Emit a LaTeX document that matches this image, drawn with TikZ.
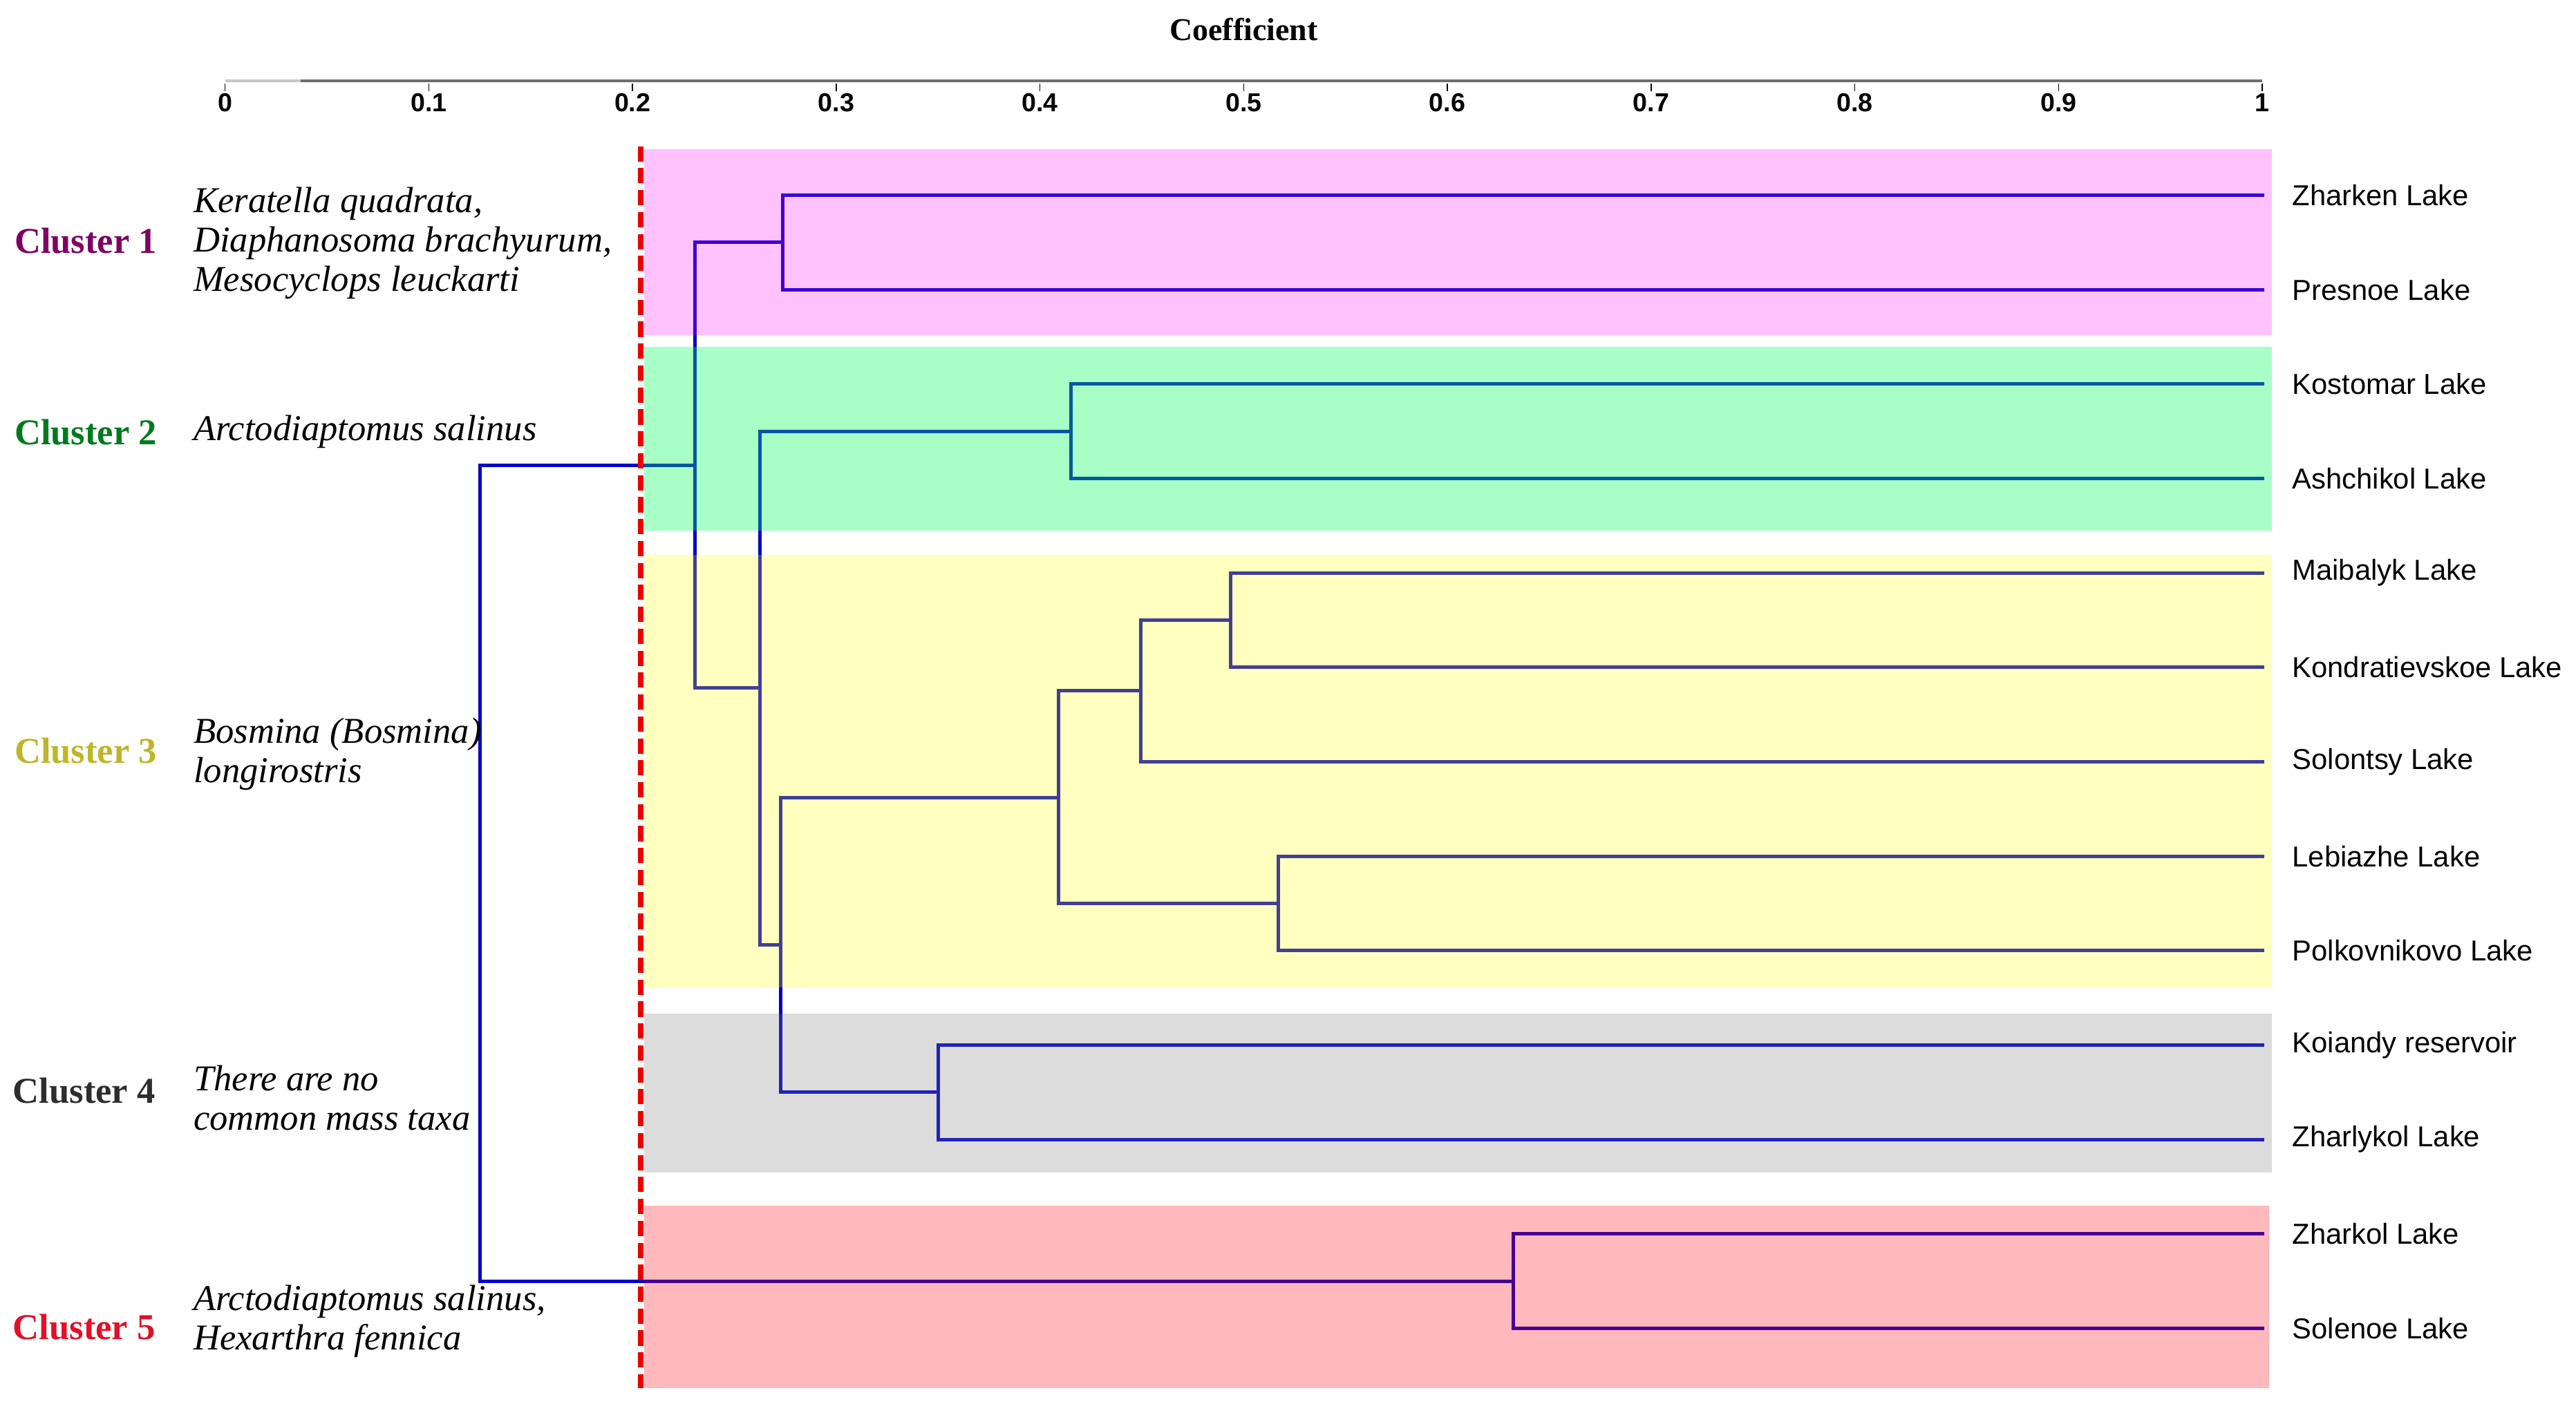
\documentclass[tikz,border=0pt]{standalone}
\usepackage{fontspec}
\setmainfont{Liberation Serif}
\newfontfamily\lakefont{Liberation Sans}
\definecolor{treeblue}{RGB}{0,0,200}
\definecolor{bpink}{RGB}{255,0,255}
\definecolor{bgreen}{RGB}{0,255,86}
\definecolor{byellow}{RGB}{255,255,0}
\definecolor{bgray}{RGB}{128,128,128}
\definecolor{bred}{RGB}{255,0,10}
\definecolor{cA}{RGB}{128,0,100}
\definecolor{cB}{RGB}{0,122,30}
\definecolor{cC}{RGB}{190,182,40}
\definecolor{cD}{RGB}{45,45,45}
\definecolor{cE}{RGB}{225,16,40}
\definecolor{axisgray}{RGB}{110,110,110}
\definecolor{axislight}{RGB}{200,200,200}
\definecolor{cutred}{RGB}{235,0,0}
\begin{document}
\begin{tikzpicture}[x=0.02cm,y=-0.02cm,
  tree/.style={draw=treeblue,line width=1.2pt,line cap=rect},
  lake/.style={anchor=west,font=\lakefont\fontsize{10}{12}\selectfont,inner sep=0},
  cl/.style={anchor=west,font=\bfseries\fontsize{12.6}{13.6}\selectfont,inner sep=0},
  sp/.style={anchor=west,align=left,font=\itshape\fontsize{12.6}{13.6}\selectfont,inner sep=0},
  ticklab/.style={font=\lakefont\bfseries\fontsize{9}{11}\selectfont,inner sep=0},
  band/.style={fill opacity=#1}
]
\useasboundingbox (0,0) rectangle (1568,860);

% axis
\node[font=\bfseries\fontsize{11}{13}\selectfont,inner sep=0] (coef) at (757,18) {Coefficient};
\coordinate (a0) at (137,49.2);
\coordinate (a1) at (1377,49.2);
\coordinate (amid) at (183,49.2);
\draw[axisgray,line width=0.8pt] (amid) -- (a1);
\draw[axislight,line width=0.8pt] (a0) -- (amid);
\foreach \k/\lab in {0/0,1/0.1,2/0.2,3/0.3,4/0.4,5/0.5,6/0.6,7/0.7,8/0.8,9/0.9,10/1}{
  \coordinate (tk\k) at (137+124*\k,51);
  \node[ticklab] (tl\k) at (137+124*\k,62.3) {\lab};
  \draw[black,line width=0.35pt] (tk\k) -- ++(0,4.5);
}

% leaves
\foreach \i/\name in {1/Zharken Lake,2/Presnoe Lake,3/Kostomar Lake,4/Ashchikol Lake,5/Maibalyk Lake,6/Kondratievskoe Lake,7/Solontsy Lake,8/Lebiazhe Lake,9/Polkovnikovo Lake,10/Koiandy reservoir,11/Zharlykol Lake,12/Zharkol Lake,13/Solenoe Lake}{
  \coordinate (e\i) at (1377,{118.8+57.5*(\i-1)});
  \node[lake] (l\i) at (1395,{118.8+57.5*(\i-1)}) {\name};
}

% internal nodes
\coordinate (n1) at (476.6,147.5);
\coordinate (n2) at (651.8,262.6);
\coordinate (n3) at (749,377.6);
\coordinate (n4) at (694.2,420.5);
\coordinate (n5) at (778,550);
\coordinate (n6) at (644.5,485.5);
\coordinate (n7) at (571.3,665);
\coordinate (n8) at (475,575.5);
\coordinate (n9) at (462.7,419);
\coordinate (n10) at (422.9,283.3);
\coordinate (n11) at (921,780);
\coordinate (n12) at (292,531.6);

\draw[tree] (e1) -| (n1) |- (e2);
\draw[tree] (e3) -| (n2) |- (e4);
\draw[tree] (e5) -| (n3) |- (e6);
\draw[tree] (n3) -| (n4) |- (e7);
\draw[tree] (e8) -| (n5) |- (e9);
\draw[tree] (n4) -| (n6) |- (n5);
\draw[tree] (e10) -| (n7) |- (e11);
\draw[tree] (n6) -| (n8) |- (n7);
\draw[tree] (n2) -| (n9) |- (n8);
\draw[tree] (n1) -| (n10) |- (n9);
\draw[tree] (e12) -| (n11) |- (e13);
\draw[tree] (n10) -| (n12) |- (n11);

% bands (drawn over the tree, translucent)
\fill[bpink,band=0.24] (392,91) rectangle (1383,204);
\fill[bgreen,band=0.34] (392,211) rectangle (1383,323);
\fill[byellow,band=0.25] (392,338) rectangle (1383,601);
\fill[bgray,band=0.275] (392,617) rectangle (1383,714);
\fill[bred,band=0.28] (392,734) rectangle (1381,845);

% cut line
\coordinate (cut0) at (390,89);
\coordinate (cut1) at (390,845);
\draw[cutred,line width=1.8pt,dash pattern=on 5.3pt off 2.3pt] (cut0) -- (cut1);

% cluster labels
\node[cl,text=cA] (k1) at (8.5,146.5) {Cluster 1};
\node[cl,text=cB] (k2) at (8.5,263) {Cluster 2};
\node[cl,text=cC] (k3) at (8.5,457) {Cluster 3};
\node[cl,text=cD] (k4) at (7.5,664) {Cluster 4};
\node[cl,text=cE] (k5) at (7.5,808) {Cluster 5};

% species
\node[sp] (s1) at (117.5,148) {Keratella quadrata,\\Diaphanosoma brachyurum,\\Mesocyclops leuckarti};
\node[sp] (s2) at (117.5,263) {Arctodiaptomus salinus};
\node[sp] (s3) at (117.5,459) {Bosmina (Bosmina)\\longirostris};
\node[sp] (s4) at (117.5,668.5) {There are no\\common mass taxa};
\node[sp] (s5) at (117.5,804.5) {Arctodiaptomus salinus,\\Hexarthra fennica};
\end{tikzpicture}
\end{document}
